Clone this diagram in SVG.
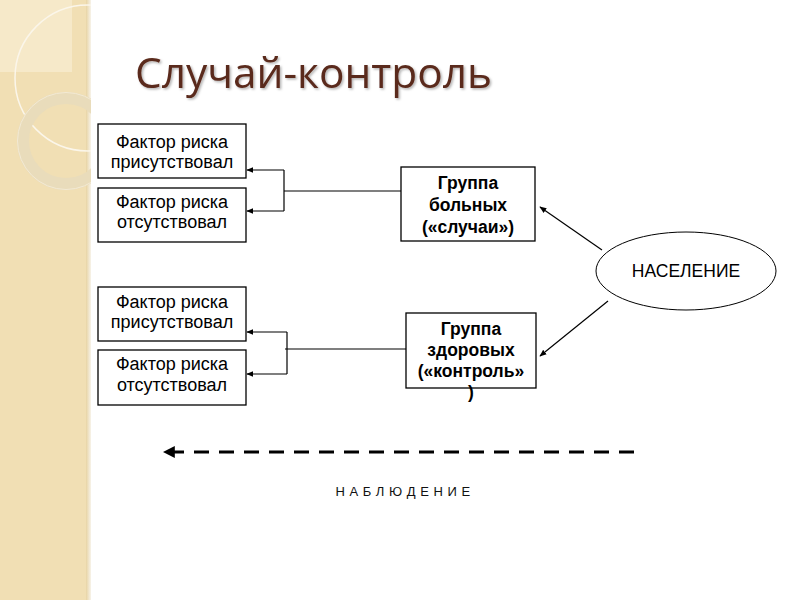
<svg xmlns="http://www.w3.org/2000/svg" width="800" height="600" viewBox="0 0 800 600">
<defs>
<style>
.box{fill:#ffffff;stroke:#000;stroke-width:1.3}
.t{font-family:"Liberation Sans",Arial,sans-serif;font-size:18px;fill:#000;text-anchor:middle}
.b{font-weight:bold;font-size:17.5px}
.e{font-size:17.5px}
.obs{font-size:13px;letter-spacing:0.5px;fill:#111}
.ln{stroke:#000;stroke-width:1.2;fill:none}
</style>
<marker id="ah" viewBox="0 0 10 10" refX="9" refY="5" markerWidth="7" markerHeight="7" markerUnits="userSpaceOnUse" orient="auto">
<path d="M0,1 L10,5 L0,9 z" fill="#000"/>
</marker>
<marker id="ah2" viewBox="0 0 10 10" refX="9" refY="5" markerWidth="4" markerHeight="4" orient="auto">
<path d="M0,0 L10,5 L0,10 z" fill="#000"/>
</marker>
<linearGradient id="edge" x1="0" y1="0" x2="1" y2="0">
<stop offset="0" stop-color="#e8d4a4"/>
<stop offset="1" stop-color="#f7f3ea"/>
</linearGradient>
<filter id="sh" x="-5%" y="-20%" width="110%" height="140%">
<feDropShadow dx="1.5" dy="1.5" stdDeviation="1.2" flood-color="#000" flood-opacity="0.3"/>
</filter>
</defs>
<rect x="0" y="0" width="800" height="600" fill="#ffffff"/>
<g id="background">
<rect x="0" y="0" width="88" height="600" fill="#f1dfb4"/>
<rect x="86" y="0" width="5" height="600" fill="url(#edge)"/>
<rect x="0" y="0" width="72" height="72" fill="#f6e9c9"/>
<circle cx="88" cy="78" r="73" fill="none" stroke="#fbf6ea" stroke-width="1.5"/>
<circle cx="66" cy="141" r="43" fill="none" stroke="#e9dcbb" stroke-width="12"/>
<circle cx="66" cy="141" r="48.5" fill="none" stroke="#f3ead4" stroke-width="1"/>
<rect x="91" y="0" width="709" height="600" fill="#ffffff"/>
</g>
<text x="135" y="88" font-family="'Open Sans','Noto Sans',sans-serif" font-size="42.4" fill="#5a2a1c" filter="url(#sh)">Случай-контроль</text>
<g id="connectors">
<line class="ln" x1="284" y1="170" x2="247" y2="170" marker-end="url(#ah)"/>
<line class="ln" x1="284" y1="211" x2="247" y2="211" marker-end="url(#ah)"/>
<line class="ln" x1="284" y1="170" x2="284" y2="211"/>
<line class="ln" x1="284" y1="191" x2="401" y2="191"/>
<line class="ln" x1="287" y1="332" x2="247" y2="332" marker-end="url(#ah)"/>
<line class="ln" x1="287" y1="374" x2="247" y2="374" marker-end="url(#ah)"/>
<line class="ln" x1="287" y1="332" x2="287" y2="374"/>
<line class="ln" x1="285" y1="349" x2="406" y2="349"/>
<line class="ln" x1="602" y1="250" x2="540" y2="207" marker-end="url(#ah)"/>
<line class="ln" x1="608" y1="301" x2="540" y2="356" marker-end="url(#ah)"/>
<line x1="634" y1="452" x2="164" y2="452" stroke="#000" stroke-width="3" stroke-dasharray="15,10" marker-end="url(#ah2)"/>
</g>
<g id="n1"><rect class="box" x="98" y="124" width="148" height="54"/><text class="t" x="172" y="148">Фактор риска</text><text class="t" x="172" y="168">присутствовал</text></g>
<g id="n2"><rect class="box" x="98" y="188" width="148" height="54"/><text class="t" x="172" y="208">Фактор риска</text><text class="t" x="172" y="228">отсутствовал</text></g>
<g id="n3"><rect class="box" x="98" y="287" width="148" height="54"/><text class="t" x="172" y="308">Фактор риска</text><text class="t" x="172" y="328">присутствовал</text></g>
<g id="n4"><rect class="box" x="98" y="350" width="148" height="55"/><text class="t" x="172" y="370">Фактор риска</text><text class="t" x="172" y="391">отсутствовал</text></g>
<g id="cases"><rect class="box" x="401" y="167" width="134" height="74"/><text class="t b" x="468" y="189">Группа</text><text class="t b" x="468" y="211">больных</text><text class="t b" x="468" y="233">(«случаи»)</text></g>
<g id="controls"><rect class="box" x="406" y="313" width="130" height="75"/><text class="t b" x="471" y="335">Группа</text><text class="t b" x="471" y="356">здоровых</text><text class="t b" x="471" y="377">(«контроль»</text><text class="t b" x="471" y="398">)</text></g>
<g id="population"><ellipse cx="686" cy="271" rx="90" ry="39" fill="#fff" stroke="#000" stroke-width="1"/><text class="t e" x="686" y="277">НАСЕЛЕНИЕ</text></g>
<text class="t obs" x="403" y="496">Н А Б Л Ю Д Е Н И Е</text>
</svg>
